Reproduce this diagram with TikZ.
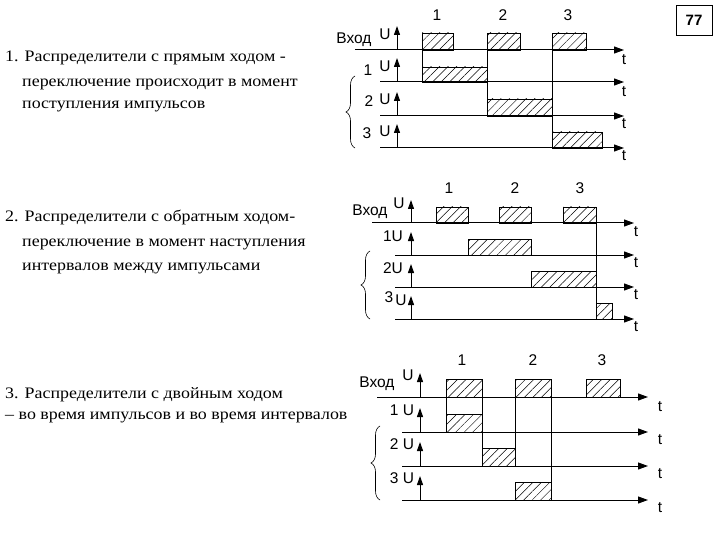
\documentclass[tikz,border=0pt]{standalone}
\usepackage{fontspec}
\setmainfont{Liberation Serif}
\newfontfamily\diag{Liberation Sans}
\usetikzlibrary{patterns.meta,arrows.meta,decorations.pathreplacing}
\tikzset{
 ax/.style={line width=1pt,-{Triangle[length=10pt,width=7pt]}},
 uax/.style={line width=1pt,-{Triangle[length=9pt,width=6pt]}},
 pulse/.style={draw,line width=0.9pt,pattern={Lines[angle=45,distance=6pt,line width=0.5pt]}},
 vl/.style={line width=0.9pt},
 lbl/.style={font=\diag\fontsize{15.5}{15.5}\selectfont,inner sep=0pt},
 txt/.style={font=\fontsize{16}{18}\selectfont,anchor=base west,inner sep=0pt,xscale=1.12},
 br/.style={decorate,decoration={brace,amplitude=9pt},line width=0.6pt}
}
\begin{document}
\begin{tikzpicture}[x=1pt,y=-1pt]
\useasboundingbox (0,0) rectangle (720,540);
\node[draw,line width=0.8pt,minimum width=36pt,minimum height=30pt,font=\diag\bfseries\fontsize{15}{15}\selectfont] (num) at (694,20) {77};
\node[txt] (t1a) at (5,62) {1. Распределители с прямым ходом -};
\node[txt] (t1b) at (22,87) {переключение происходит в момент};
\node[txt] (t1c) at (22,109) {поступления импульсов};
\node[txt] (t2a) at (5,222) {2. Распределители с обратным ходом-};
\node[txt] (t2b) at (22,247) {переключение в момент наступления};
\node[txt] (t2c) at (22,270) {интервалов между импульсами};
\node[txt] (t3a) at (5,398) {3. Распределители с двойным ходом};
\node[txt] (t3b) at (5,419) {– во время импульсов и во время интервалов};

% ---------- diagram 1 ----------
\draw[pulse] (422,33) rectangle (453,50);
\draw[pulse] (487,33) rectangle (520,50);
\draw[pulse] (552,33) rectangle (586,50);
\draw[pulse] (422,67) rectangle (487,82);
\draw[pulse] (487,99) rectangle (552,116);
\draw[pulse] (552,132) rectangle (602,148);
\draw[vl] (422,50)--(422,82) (487,50)--(487,116) (552,50)--(552,148);
\draw[ax] (355,50)--(624,50);
\foreach \y in {82,116,148} \draw[ax] (380,\y)--(624,\y);
\foreach \y in {50,82,116,148} \draw[uax] (397,\y)--(397,\y-24);
\foreach \y in {60,92,124,156} \node[lbl] at (624,\y) {t};
\foreach \y in {34,66,99,131} \node[lbl] at (385,\y) {U};
\node[lbl] at (437,15) {1}; \node[lbl] at (503,15) {2}; \node[lbl] at (568,15) {3};
\node[lbl] at (354,40) {Вход};
\node[lbl] at (368,70) {1}; \node[lbl] at (369,101) {2}; \node[lbl] at (367,133) {3};
\draw[br] (355,148)--(355,76);

% ---------- diagram 2 ----------
\draw[pulse] (436,207) rectangle (468,223);
\draw[pulse] (499,207) rectangle (531,223);
\draw[pulse] (563,207) rectangle (596,223);
\draw[pulse] (468,239) rectangle (531,255);
\draw[pulse] (531,271) rectangle (596,287);
\draw[pulse] (596,303) rectangle (612,319);
\draw[vl] (596,223)--(596,319);
\draw[ax] (372,223)--(634,223);
\foreach \y in {255,287,319} \draw[ax] (395,\y)--(634,\y);
\foreach \y in {223,255,287,319} \draw[uax] (411,\y)--(411,\y-23);
\foreach \y in {232,263,295,327} \node[lbl] at (636,\y) {t};
\node[lbl] at (449,188) {1}; \node[lbl] at (515,188) {2}; \node[lbl] at (580,188) {3};
\node[lbl] at (370,212) {Вход}; \node[lbl] at (399,203) {U};
\node[lbl] at (393,236) {1U}; \node[lbl] at (393,268) {2U};
\node[lbl] at (389,297) {3}; \node[lbl] at (401,300) {U};
\draw[br] (370,319)--(370,251);

% ---------- diagram 3 ----------
\draw[pulse] (446,379) rectangle (482,397);
\draw[pulse] (515,379) rectangle (551,397);
\draw[pulse] (586,379) rectangle (620,397);
\draw[pulse] (446,414) rectangle (482,432);
\draw[pulse] (482,448) rectangle (515,466);
\draw[pulse] (515,482) rectangle (551,500);
\draw[vl] (446,397)--(446,432) (482,397)--(482,466) (515,397)--(515,466) (551,397)--(551,500);
\draw[ax] (377,397)--(648,397);
\foreach \y in {432,466,500} \draw[ax] (402,\y)--(648,\y);
\foreach \y in {397,432,466,500} \draw[uax] (420,\y)--(420,\y-24);
\foreach \y in {407,440,474,508} \node[lbl] at (660,\y) {t};
\node[lbl] at (462,360) {1}; \node[lbl] at (533,360) {2}; \node[lbl] at (602,360) {3};
\node[lbl] at (377,384) {Вход}; \node[lbl] at (408,375) {U};
\node[lbl] at (402,410) {1 U}; \node[lbl] at (402,444) {2 U}; \node[lbl] at (402,478) {3 U};
\draw[br] (380,500)--(380,426);
\end{tikzpicture}
\end{document}
